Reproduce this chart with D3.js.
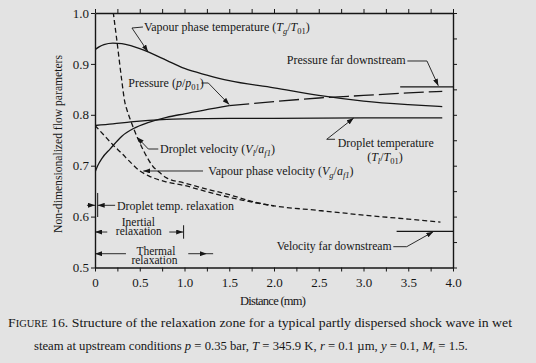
<!DOCTYPE html>
<html>
<head>
<meta charset="utf-8">
<script src="https://cdn.jsdelivr.net/npm/d3@7"></script>
<style>
  html, body { margin: 0; padding: 0; background: #e3e3e3; }
  svg { display: block; }
</style>
</head>
<body>
<div id="chart"></div>
<script>

const width = 536;
const height = 363;
const serif = 'Liberation Serif';
const ink = '#161616';

// distance (mm) / non-dimensional value
const vapTempX = [0, 0.05, 0.1, 0.2, 0.3, 0.4, 0.5, 0.6, 0.8, 1.0, 1.25, 1.5, 2.0, 2.5, 3.0, 3.5, 3.88];
const vapTempY = [0.928, 0.934, 0.938, 0.941, 0.940, 0.936, 0.930, 0.923, 0.907, 0.891, 0.878, 0.867, 0.853, 0.838, 0.827, 0.820, 0.816];

const pressX = [0, 0.03, 0.08, 0.17, 0.3, 0.43, 0.6, 0.8, 1.0, 1.5, 2.0, 2.5, 3.0, 3.5, 3.88];
const pressY = [0.687, 0.700, 0.715, 0.733, 0.758, 0.773, 0.785, 0.795, 0.802, 0.818, 0.826, 0.833, 0.838, 0.843, 0.846];

const dropTempX = [0, 0.2, 0.4, 0.6, 0.8, 1.0, 1.5, 2.0, 3.0, 3.88];
const dropTempY = [0.779, 0.782, 0.786, 0.789, 0.791, 0.792, 0.793, 0.793, 0.794, 0.794];

const vapVelX = [0, 0.1, 0.2, 0.3, 0.4, 0.5, 0.6, 0.8, 1.0, 1.25, 1.5, 2.0, 2.5, 3.0, 3.5, 3.86];
const vapVelY = [0.779, 0.760, 0.741, 0.724, 0.706, 0.690, 0.680, 0.668, 0.661, 0.649, 0.638, 0.621, 0.612, 0.603, 0.595, 0.589];

const dropVelX = [0.15, 0.2, 0.25, 0.3, 0.33, 0.36, 0.4, 0.45, 0.5, 0.55, 0.6, 0.65, 0.7, 0.8, 1.0, 1.25, 1.5, 1.75, 2.0];
const dropVelY = [1.08, 1.007, 0.938, 0.866, 0.828, 0.808, 0.788, 0.765, 0.745, 0.727, 0.711, 0.698, 0.690, 0.676, 0.666, 0.654, 0.643, 0.630, 0.621];

const farPressure = 0.855;
const farVelocity = 0.571;

const xTickLabels = ['0', '0.5', '1.0', '1.5', '2.0', '2.5', '3.0', '3.5', '4.0'];
const yTickLabels = ['0.5', '0.6', '0.7', '0.8', '0.9', '1.0'];


buildChart();


function buildChart() {

    const svg = d3.select('#chart')
        .append('svg')
        .attr('width', width)
        .attr('height', height)
        .attr('font-family', serif);

    svg.append('rect')
        .attr('width', width)
        .attr('height', height)
        .attr('fill', '#e3e3e3');

    const defs = svg.append('defs');

    defs.append('marker')
        .attr('id', 'arrow')
        .attr('markerUnits', 'userSpaceOnUse')
        .attr('markerWidth', 7)
        .attr('markerHeight', 5)
        .attr('refX', 7)
        .attr('refY', 2.5)
        .attr('orient', 'auto')
        .append('path')
        .attr('d', 'M0,0 L7,2.5 L0,5 Z')
        .attr('fill', ink);

    const x = d3.scaleLinear().domain([0, 4]).range([95, 453]);
    const y = d3.scaleLinear().domain([0.5, 1.0]).range([267.5, 13]);

    defs.append('clipPath')
        .attr('id', 'plot')
        .append('rect')
        .attr('x', x(0))
        .attr('y', y(1))
        .attr('width', x(4) - x(0))
        .attr('height', y(0.5) - y(1));

    const g = svg.append('g');

    // axes
    const quarter = d3.range(0, 4.001, 0.25);
    const labelled = xTickLabels.map(Number);

    const bottom = g.append('g')
        .attr('transform', `translate(0, ${y(0.5)})`)
        .call(d3.axisBottom(x)
            .tickValues(quarter)
            .tickSize(4)
            .tickSizeOuter(0)
            .tickPadding(6)
            .tickFormat((d) => {
                let i = labelled.findIndex((v) => Math.abs(v - d) < 1e-6);
                return i >= 0 ? xTickLabels[i] : '';
            }));

    const top = g.append('g')
        .attr('transform', `translate(0, ${y(1)})`)
        .call(d3.axisTop(x).tickValues(quarter).tickSize(4).tickSizeOuter(0).tickFormat(''));

    const left = g.append('g')
        .attr('transform', `translate(${x(0)}, 0)`)
        .call(d3.axisLeft(y)
            .tickValues(yTickLabels.map(Number))
            .tickSize(4)
            .tickSizeOuter(0)
            .tickPadding(2)
            .tickFormat((d, i) => yTickLabels[i]));

    const right = g.append('g')
        .attr('transform', `translate(${x(4)}, 0)`)
        .call(d3.axisRight(y).tickValues(d3.range(0.5, 1.001, 0.05)).tickSize(4).tickSizeOuter(0).tickFormat(''));

    [bottom, top, left, right].forEach((a) => {
        a.attr('font-family', serif).attr('font-size', 13);
        a.select('.domain').attr('stroke', ink).attr('stroke-width', 1.4);
        a.selectAll('.tick line').attr('stroke', ink).attr('stroke-width', 1);
        a.selectAll('text').attr('fill', ink);
    });

    g.append('text')
        .attr('transform', 'translate(62, 144) rotate(-90)')
        .attr('text-anchor', 'middle')
        .attr('font-size', 12.5)
        .attr('fill', ink)
        .attr('textLength', 178)
        .attr('lengthAdjust', 'spacingAndGlyphs')
        .text('Non-dimensionalized flow parameters');

    g.append('text')
        .attr('x', x(2) - 1)
        .attr('y', 305)
        .attr('text-anchor', 'middle')
        .attr('font-size', 12.5)
        .attr('fill', ink)
        .attr('textLength', 66)
        .text('Distance (mm)');

    // curves
    const plot = g.append('g').attr('clip-path', 'url(#plot)');

    const line = d3.line()
        .x((d) => x(d[0]))
        .y((d) => y(d[1]))
        .curve(d3.curveMonotoneX);

    const zip = (xs, ys) => xs.map((v, i) => [v, ys[i]]);

    const vapTemp = zip(vapTempX, vapTempY);
    const press = zip(pressX, pressY);
    const dropTemp = zip(dropTempX, dropTempY);
    const vapVel = zip(vapVelX, vapVelY);
    const dropVel = zip(dropVelX, dropVelY);

    const curves = [
        { data: vapTemp, dash: null },
        { data: dropTemp, dash: null },
        { data: press.filter((d) => d[0] <= 1.5), dash: null },
        { data: press.filter((d) => d[0] >= 1.5), dash: '20,5' },
        { data: vapVel, dash: '5,3' },
        { data: dropVel, dash: '5,3' }
    ];

    plot.selectAll('.curve')
        .data(curves)
        .enter()
        .append('path')
        .attr('class', 'curve')
        .attr('d', (d) => line(d.data))
        .attr('fill', 'none')
        .attr('stroke', ink)
        .attr('stroke-width', 1.3)
        .attr('stroke-dasharray', (d) => d.dash);

    // far downstream levels
    [[3.41, farPressure], [3.37, farVelocity]].forEach((d) => {
        g.append('line')
            .attr('x1', x(d[0])).attr('x2', x(4))
            .attr('y1', y(d[1])).attr('y2', y(d[1]))
            .attr('stroke', ink)
            .attr('stroke-width', 1.2);
    });

    // labels with leaders (data units)
    const notes = [
        { x: 0.547, y: 0.965, parts: ['Vapour phase temperature (', { v: 'T', s: 'g' }, '/', { v: 'T', s: '01' }, ')'],
          leader: [[0.536, 0.9725], [0.413, 0.9705], [0.592, 0.924]] },
        { x: 0.372, y: 0.8546, parts: ['Pressure (', { v: 'p' }, '/', { v: 'p', s: '01' }, ')'],
          leader: [[1.19, 0.8625], [1.266, 0.8625], [1.5, 0.82]] },
        { x: 2.142, y: 0.8998, w: 119, parts: ['Pressure far downstream'],
          leader: [[3.49, 0.9057], [3.709, 0.9057], [3.836, 0.857]] },
        { x: 0.726, y: 0.725, parts: ['Droplet velocity (', { v: 'V', s: 'l' }, '/', { v: 'a', s: 'f1' }, ')'],
          leader: [[0.707, 0.7328], [0.596, 0.7328], [0.47, 0.756]] },
        { x: 1.266, y: 0.6817, parts: ['Vapour phase velocity (', { v: 'V', s: 'g' }, '/', { v: 'a', s: 'f1' }, ')'],
          leader: [[1.207, 0.6896], [0.54, 0.6896]] },
        { x: 2.712, y: 0.7367, w: 96, parts: ['Droplet temperature'],
          leader: [[2.682, 0.7519], [2.589, 0.7519], [2.89, 0.7935]] },
        { x: 3.24, y: 0.709, anchor: 'middle', parts: ['(', { v: 'T', s: 'l' }, '/', { v: 'T', s: '01' }, ')'] },
        { x: 2.03, y: 0.5344, w: 115, parts: ['Velocity far downstream'],
          leader: [[3.333, 0.5409], [3.483, 0.5409], [3.78, 0.5703]] },
        { x: 0.245, y: 0.613, w: 117, parts: ['Droplet temp. relaxation'] },
        { x: 0.484, y: 0.5825, anchor: 'middle', size: 11.5, parts: ['Inertial'] },
        { x: 0.49, y: 0.5639, anchor: 'middle', size: 11.5, parts: ['relaxation'] },
        { x: 0.68, y: 0.5246, anchor: 'middle', size: 11.5, parts: ['Thermal'] },
        { x: 0.664, y: 0.5075, anchor: 'middle', size: 11.5, parts: ['relaxation'] }
    ];

    notes.forEach((n) => {
        let t = richText(g, x(n.x), y(n.y), n.parts, n.anchor || 'start')
            .attr('font-size', n.size || 12);
        if (n.w) {
            t.attr('textLength', n.w).attr('lengthAdjust', 'spacingAndGlyphs');
        }
        if (n.leader) {
            g.append('path')
                .attr('d', d3.line().x((d) => x(d[0])).y((d) => y(d[1]))(n.leader))
                .attr('fill', 'none')
                .attr('stroke', ink)
                .attr('stroke-width', 0.9)
                .attr('marker-end', 'url(#arrow)');
        }
    });

    // relaxation length arrows [from, to, level]
    const arrows = [
        [-0.09, 0, 0.6222], [0.225, 0.03, 0.6222],
        [0.137, 0, 0.5697], [0.83, 0.985, 0.5697],
        [0.346, 0, 0.5271], [1.042, 1.25, 0.5271]
    ];

    arrows.forEach((a) => {
        g.append('line')
            .attr('x1', x(a[0])).attr('x2', x(a[1]))
            .attr('y1', y(a[2])).attr('y2', y(a[2]))
            .attr('stroke', ink)
            .attr('stroke-width', 0.9)
            .attr('marker-end', 'url(#arrow)');
    });

    g.append('line')
        .attr('x1', x(1.25)).attr('x2', x(1.32))
        .attr('y1', y(0.5271)).attr('y2', y(0.5271))
        .attr('stroke', ink)
        .attr('stroke-width', 0.9);

    // end bars [x, lo, hi]
    [[0.03, 0.5992, 0.6464], [0.99, 0.5566, 0.583]].forEach((b) => {
        g.append('line')
            .attr('x1', x(b[0])).attr('x2', x(b[0]))
            .attr('y1', y(b[1])).attr('y2', y(b[2]))
            .attr('stroke', ink)
            .attr('stroke-width', 1);
    });

    // caption
    const cap1 = g.append('text')
        .attr('x', 8)
        .attr('y', 327)
        .attr('font-size', 12.5)
        .attr('fill', ink)
        .attr('textLength', 504)
        .attr('lengthAdjust', 'spacingAndGlyphs');
    cap1.append('tspan').text('F');
    cap1.append('tspan').attr('font-size', 9.5).text('IGURE');
    cap1.append('tspan').text(' 16. Structure of the relaxation zone for a typical partly dispersed shock wave in wet');

    richText(g, 34, 349.5, ['steam at upstream conditions ', { v: 'p' }, ' = 0.35 bar, ', { v: 'T' },
        ' = 345.9 K, ', { v: 'r' }, ' = 0.1 \u00b5m, ', { v: 'y' }, ' = 0.1, ', { v: 'M', s: 't' }, ' = 1.5.'], 'start')
        .attr('font-size', 12.7);

}


function richText(parent, px, py, parts, anchor) {

    const t = parent.append('text')
        .attr('x', px)
        .attr('y', py)
        .attr('font-size', 12)
        .attr('fill', ink)
        .attr('text-anchor', anchor);

    let shift = 0;

    parts.forEach((p) => {
        let span;
        if (typeof p === 'string') {
            span = t.append('tspan').text(p);
        } else {
            span = t.append('tspan').attr('font-style', 'italic').text(p.v);
        }
        if (shift) {
            span.attr('dy', -shift);
            shift = 0;
        }
        if (p.s) {
            t.append('tspan')
                .attr('font-size', 8.5)
                .attr('dy', 3)
                .attr('font-style', /[a-z]/.test(p.s) ? 'italic' : 'normal')
                .text(p.s);
            shift = 3;
        }
    });

    return t;
}

</script>
</body>
</html>
